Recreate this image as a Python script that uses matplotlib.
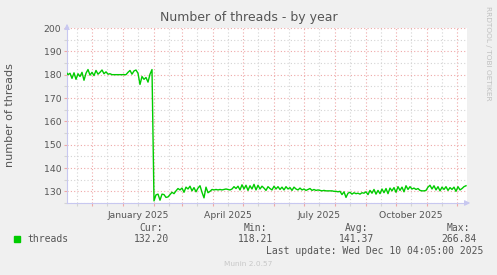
import numpy as np
import pandas as pd
import matplotlib
matplotlib.use("Agg")
import matplotlib.pyplot as plt
import matplotlib.dates as mdates
from matplotlib.patches import Rectangle
from matplotlib.ticker import MultipleLocator, FuncFormatter

# Data: number of threads, one reading every 2 days from 2024-11-05
START = "2024-11-05"
before_drop = [181.2, 180.0, 180.6, 178.4, 180.8, 178.0, 180.4, 179.2, 181.0, 177.6,
               180.6, 182.2, 179.8, 181.0, 179.6, 181.8, 180.2, 181.0, 182.0, 180.4,
               181.2, 180.2, 180.4, 180.0, 180.0, 180.0, 180.0, 180.0, 180.0, 180.0,
               180.0, 181.0, 181.8, 180.2, 181.6, 182.0, 180.6, 175.8, 179.2, 178.0,
               178.8, 176.8, 180.2, 182.2]
after_drop = [125.9, 128.5, 128.8, 126.2, 128.8, 128.6, 127.4, 127.6, 128.6, 129.6,
              129.0, 130.2, 131.2, 130.6, 131.4, 129.6, 131.8, 131.0, 132.2, 130.2,
              131.6, 129.8, 131.4, 132.4, 129.6, 127.2, 131.8, 129.4, 130.0, 130.8,
              130.6, 130.8, 130.6, 130.8, 130.6, 130.8, 131.0, 130.8, 130.6, 131.0,
              132.0, 131.2, 132.2, 130.6, 132.8, 131.0, 132.6, 130.4, 132.4, 131.0,
              133.0, 130.6, 132.6, 131.0, 132.2, 131.4, 130.4, 132.0, 131.2, 130.6,
              132.2, 131.0, 132.0, 130.8, 131.8, 130.6, 132.0, 131.0, 131.6, 130.4,
              131.8, 131.0, 130.6, 131.4, 130.6, 131.0, 130.4, 130.8, 131.2, 130.4,
              130.8, 130.4, 130.6, 130.4, 130.2, 130.4, 130.2, 130.2, 130.2, 130.2,
              130.0, 130.0, 129.8, 130.0, 128.6, 129.8, 127.4, 129.2, 129.6, 128.8,
              129.4, 129.0, 129.2, 128.8, 129.4, 129.2, 129.8, 128.6, 130.4, 129.2,
              130.8, 128.8, 130.4, 129.0, 131.0, 129.4, 131.2, 129.0, 131.4, 130.2,
              131.6, 129.6, 132.0, 130.4, 131.8, 129.8, 132.4, 130.8, 132.0, 131.0,
              131.4, 130.8, 131.2, 130.4, 130.2, 130.2, 130.4, 131.8, 132.6, 131.0,
              132.4, 130.6, 132.0, 130.2, 131.8, 130.8, 132.0, 130.4, 131.6, 130.8,
              131.8, 130.0, 132.0, 130.6, 131.2, 132.0, 132.4]
threads = before_drop + after_drop
dates = pd.date_range(START, periods=len(threads), freq="2D")

x_start, x_end = pd.Timestamp("2024-11-06"), pd.Timestamp("2025-12-11")
y_min, y_max = 125, 200

stats_labels = ["Cur:", "Min:", "Avg:", "Max:"]
stats_values = ["132.20", "118.21", "141.37", "266.84"]
last_update = "Last update: Wed Dec 10 04:05:00 2025"

W, H = 497, 275
BG = "#F0F0F0"
TXT = "#555555"
GREEN = "#00CC00"
AXIS = "#C8C8F0"


def fx(x):
    return x / W


def fy(y):
    return 1 - y / H


fig = plt.figure(figsize=(W / 100, H / 100), dpi=100, facecolor=BG)
ax = fig.add_axes([fx(67), fy(203), fx(467) - fx(67), fy(28) - fy(203)])
ax.set_facecolor("white")

ax.plot(dates, threads, color=GREEN, lw=1.0, zorder=3)
ax.set_xlim(x_start, x_end)
ax.set_ylim(y_min, y_max)

# grids: red major, grey minor, both dotted
ax.xaxis.set_major_locator(mdates.MonthLocator())
ax.xaxis.set_minor_locator(mdates.MonthLocator(bymonthday=16))
ax.xaxis.set_major_formatter(FuncFormatter(lambda v, p: ""))
ax.xaxis.set_minor_formatter(FuncFormatter(
    lambda v, p: mdates.num2date(v).strftime("%B %Y")
    if mdates.num2date(v).month in (1, 4, 7, 10) else ""))
ax.yaxis.set_major_locator(MultipleLocator(10))
ax.yaxis.set_minor_locator(MultipleLocator(5))

dot = (0, (1, 2))
ax.grid(which="major", color="#EFA8A8", linestyle=dot, lw=0.8)
ax.grid(which="minor", color="#D4D4D4", linestyle=dot, lw=0.8)
ax.set_axisbelow(True)

ax.tick_params(axis="both", which="both", length=2, width=0.8,
               labelsize=6.7, labelcolor=TXT, pad=2)
ax.tick_params(axis="both", which="major", color="#EFA8A8")
ax.tick_params(axis="both", which="minor", color="#D4D4D4")
ax.tick_params(axis="x", which="minor", pad=4)

for side in ("top", "right"):
    ax.spines[side].set_visible(False)
for side in ("left", "bottom"):
    ax.spines[side].set_color(AXIS)
    ax.spines[side].set_linewidth(0.8)

# axis arrows
ax.annotate("", xy=(0, 1.04), xytext=(0, 0.99), xycoords="axes fraction",
            arrowprops=dict(arrowstyle="-|>", color=AXIS, lw=0.8,
                            mutation_scale=8))
ax.annotate("", xy=(1.015, 0), xytext=(0.99, 0), xycoords="axes fraction",
            arrowprops=dict(arrowstyle="-|>", color=AXIS, lw=0.8,
                            mutation_scale=8))

fig.text(fx(249), fy(18), "Number of threads - by year", ha="center",
         va="center", fontsize=9, color=TXT)
fig.text(fx(10), fy(115), "number of threads", ha="center", va="center",
         rotation=90, fontsize=8, color=TXT)
fig.text(fx(488), fy(53), "RRDTOOL / TOBI OETIKER", ha="center", va="center",
         rotation=270, fontsize=5.3, color="#C0C0C0")

# legend row
fig.patches.append(Rectangle((fx(14), fy(242)), 6 / W, 6 / H,
                             transform=fig.transFigure, color=GREEN))
mono = "DejaVu Sans Mono"
fig.text(fx(27), fy(239), "threads", ha="left", va="center",
         fontsize=7, family=mono, color=TXT)
label_right = [163, 267, 368, 470]
value_right = [169, 273, 374, 477]
for lab, val, lr, vr in zip(stats_labels, stats_values, label_right, value_right):
    fig.text(fx(lr), fy(228), lab, ha="right", va="center",
             fontsize=7, family=mono, color=TXT)
    fig.text(fx(vr), fy(239), val, ha="right", va="center",
             fontsize=7, family=mono, color=TXT)
fig.text(fx(483), fy(251.5), last_update, ha="right", va="center",
         fontsize=7, family=mono, color=TXT)
fig.text(fx(248), fy(264), "Munin 2.0.57", ha="center", va="center",
         fontsize=5.3, color="#C8C8C8")

fig.savefig("out.png", dpi=100, facecolor=BG)
